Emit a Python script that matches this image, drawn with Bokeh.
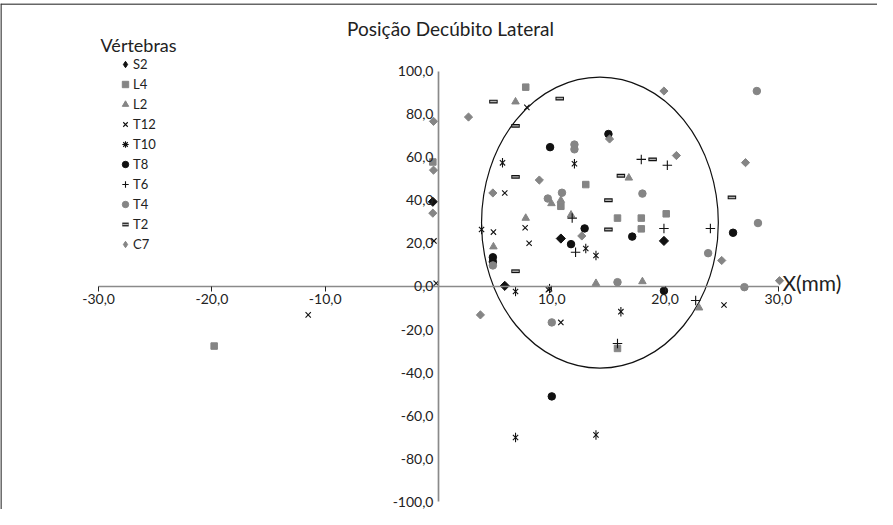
import numpy as np
from bokeh.plotting import figure
from bokeh.models import Range1d, FixedTicker, Legend, LegendItem, Label, Span
from bokeh.embed import file_html
from bokeh.resources import INLINE

FONT = "Lato"

# ---- data (mm) ----
s2_x = [-0.5, 5.85, 10.8, 19.9]
s2_y = [39.4, 0.3, 22.3, 21.2]

l4_x = [-19.8, 7.7, -0.5, 13.0, 10.8, 15.8, 17.9, 17.9, 20.1, 15.8]
l4_y = [-27.7, 92.7, 57.9, 47.4, 37.3, 31.8, 31.8, 26.8, 33.8, -28.8]

l2_x = [6.8, 9.97, 10.8, 7.7, 11.7, 16.8, 4.85, 13.9, 18.0, 23.0]
l2_y = [85.9, 38.6, 40.1, 31.8, 33.3, 50.5, 18.5, 1.5, 2.3, -9.9]

t12_x = [-11.5, -0.2, -0.4, 7.8, 5.85, 4.85, 7.65, 8.0, 9.7, 10.8, 25.2]
t12_y = [-13.2, 1.5, 21.2, 83.3, 43.5, 25.3, 27.3, 20.1, -1.5, -16.7, -8.6]

t10_x = [5.65, 12.0, 3.8, 6.8, 9.8, 13.0, 13.9, 16.1, 6.8, 13.9]
t10_y = [57.5, 57.1, 26.5, -2.3, -1.0, 17.7, 14.4, -11.7, -70.2, -69.0]

t8_x = [9.85, 15.0, 4.8, 4.8, 11.7, 12.9, 17.1, 19.9, 26.0, 10.0]
t8_y = [64.8, 70.9, 13.6, 11.5, 19.7, 27.0, 23.2, -2.0, 25.0, -51.1]

t6_x = [17.9, 20.2, 11.8, 12.1, 19.9, 24.0, 22.7, 15.8]
t6_y = [59.1, 56.4, 31.8, 15.9, 27.0, 27.0, -6.5, -26.5]

t4_x = [12.0, 12.0, 9.65, 10.9, 18.0, 28.1, 28.2, 23.8, 15.8, 27.0, 4.8, 10.0]
t4_y = [66.0, 63.8, 40.9, 43.6, 43.2, 90.9, 29.5, 15.5, 2.0, -0.3, 9.8, -16.7]

t2_x = [4.85, 10.7, 6.8, 6.8, 16.1, 15.0, 15.0, 18.9, 25.9, 6.8]
t2_y = [86.0, 87.4, 74.7, 51.0, 51.5, 40.1, 26.5, 59.1, 41.4, 7.1]

c7_x = [-0.44, 2.65, -0.44, -0.5, 4.8, 8.9, 15.1, 19.9, 21.0, 27.1, 12.65, 25.0, 30.1, 3.7]
c7_y = [76.8, 78.8, 54.1, 34.1, 43.5, 49.5, 68.6, 90.9, 60.9, 57.6, 23.5, 12.1, 2.7, -13.2]

# ellipse (center, full width, full height) in data units
ell_cx, ell_cy, ell_w, ell_h = 14.25, 29.7, 20.9, 135.3

x_ticks = [-30, -20, -10, 10, 20, 30]
y_ticks = [-100, -80, -60, -40, -20, 0, 20, 40, 60, 80, 100]

title_text = "Posição Decúbito Lateral"
legend_title = "Vértebras"
x_title = "X(mm)"

BLACK = "#111111"
GRAY = "#858585"
NAN = [float("nan")]  # legend-only proxy glyphs (nothing drawn in the plot)

p = figure(width=877, height=509,
           x_range=Range1d(-38.66, 38.75), y_range=Range1d(-103.7, 131.6),
           output_backend="svg", toolbar_location=None,
           min_border=0, min_border_top=3)
p.grid.visible = False
p.outline_line_color = None

# axes crossing at zero
for ax in (p.xaxis[0], p.yaxis[0]):
    ax.fixed_location = 0
    ax.axis_line_color = "#8a8a8a"
    ax.axis_line_width = 1.7
    ax.minor_tick_line_color = None
    ax.major_label_text_font = FONT
    ax.major_label_text_font_size = "14px"
    ax.major_label_text_color = "#222222"

p.xaxis[0].bounds = (-30, 30)
p.xaxis[0].ticker = FixedTicker(ticks=x_ticks)
p.xaxis[0].major_label_overrides = {t: f"{t:.1f}".replace(".", ",") for t in x_ticks}
p.xaxis[0].major_tick_out = 5
p.xaxis[0].major_tick_in = 0
p.xaxis[0].major_tick_line_color = "#222222"
p.xaxis[0].major_label_standoff = 3

p.yaxis[0].bounds = (-100, 100)
p.yaxis[0].ticker = FixedTicker(ticks=y_ticks)
p.yaxis[0].major_label_overrides = {t: f"{t:.1f}".replace(".", ",") for t in y_ticks}
p.yaxis[0].major_tick_out = 0
p.yaxis[0].major_tick_in = 0
p.yaxis[0].major_label_standoff = 5

# border lines (top and left)
p.add_layout(Span(location=-38.62, dimension="height", line_color="#333333", line_width=1.5))
p.add_layout(Span(location=131.4, dimension="width", line_color="#333333", line_width=1.5))

# ellipse
p.ellipse(x=[ell_cx], y=[ell_cy], width=[ell_w], height=[ell_h],
          fill_alpha=0, line_color=BLACK, line_width=1.2)

r = {}
p.scatter(s2_x, s2_y, marker="square", angle=np.pi / 4, size=6.5,
          fill_color=BLACK, line_color=BLACK)
r["S2"] = [p.scatter(x=NAN, y=NAN, marker="diamond", size=8,
                     fill_color=BLACK, line_color=BLACK)]
r["L4"] = [p.scatter(l4_x, l4_y, marker="square", size=6.5,
                     fill_color=GRAY, line_color=GRAY)]
r["L2"] = [p.scatter(l2_x, l2_y, marker="triangle", size=7.5,
                     fill_color=GRAY, line_color=GRAY)]
r["T12"] = [p.scatter(t12_x, t12_y, marker="x", size=7.5,
                      line_color=BLACK, line_width=1.1)]
p.scatter(t10_x, t10_y, marker="x", size=7.5, line_color=BLACK, line_width=1.1)
p.scatter(t10_x, t10_y, marker="dash", angle=np.pi / 2, size=9.5,
          line_color=BLACK, line_width=1.1)
r["T10"] = [p.scatter(x=NAN, y=NAN, marker="asterisk", size=8,
                      line_color=BLACK, line_width=1.1)]
r["T8"] = [p.scatter(t8_x, t8_y, marker="circle", size=7.5,
                     fill_color=BLACK, line_color=BLACK)]
r["T6"] = [p.scatter(t6_x, t6_y, marker="cross", size=9.5,
                     line_color=BLACK, line_width=1.1)]
r["T4"] = [p.scatter(t4_x, t4_y, marker="circle", size=7.5,
                     fill_color=GRAY, line_color=GRAY)]
r["T2"] = [p.scatter(t2_x, t2_y, marker="dash", size=8.5, line_color=BLACK, line_width=3.8),
           p.scatter(t2_x, t2_y, marker="dash", size=6.5, line_color="#b5b5b5", line_width=1.4)]
p.scatter(c7_x, c7_y, marker="square", angle=np.pi / 4, size=5.8,
          fill_color=GRAY, line_color=GRAY)
r["C7"] = [p.scatter(x=NAN, y=NAN, marker="diamond", size=8,
                     fill_color=GRAY, line_color=GRAY)]

order = ["S2", "L4", "L2", "T12", "T10", "T8", "T6", "T4", "T2", "C7"]
legend = Legend(items=[LegendItem(label=k, renderers=r[k]) for k in order],
                location=(117, 255), orientation="vertical",
                glyph_width=16, glyph_height=20, label_height=20,
                label_standoff=0, spacing=0, padding=0, margin=0,
                label_text_font=FONT, label_text_font_size="13px",
                label_text_color="#222222",
                background_fill_alpha=0, border_line_color=None)
p.add_layout(legend)

p.add_layout(Label(x=1.06, y=120, text=title_text, text_align="center",
                   text_baseline="alphabetic", text_font=FONT,
                   text_font_size="19px", text_color="#222222"))
p.add_layout(Label(x=-29.83, y=112.1, text=legend_title, text_align="left",
                   text_baseline="alphabetic", text_font=FONT,
                   text_font_size="18px", text_color="#222222"))
p.add_layout(Label(x=30.36, y=1.9, text=x_title, text_align="left",
                   text_baseline="alphabetic", text_font=FONT,
                   text_font_size="21px", text_color="#222222"))

open("out.html", "w").write(file_html(p, INLINE))
